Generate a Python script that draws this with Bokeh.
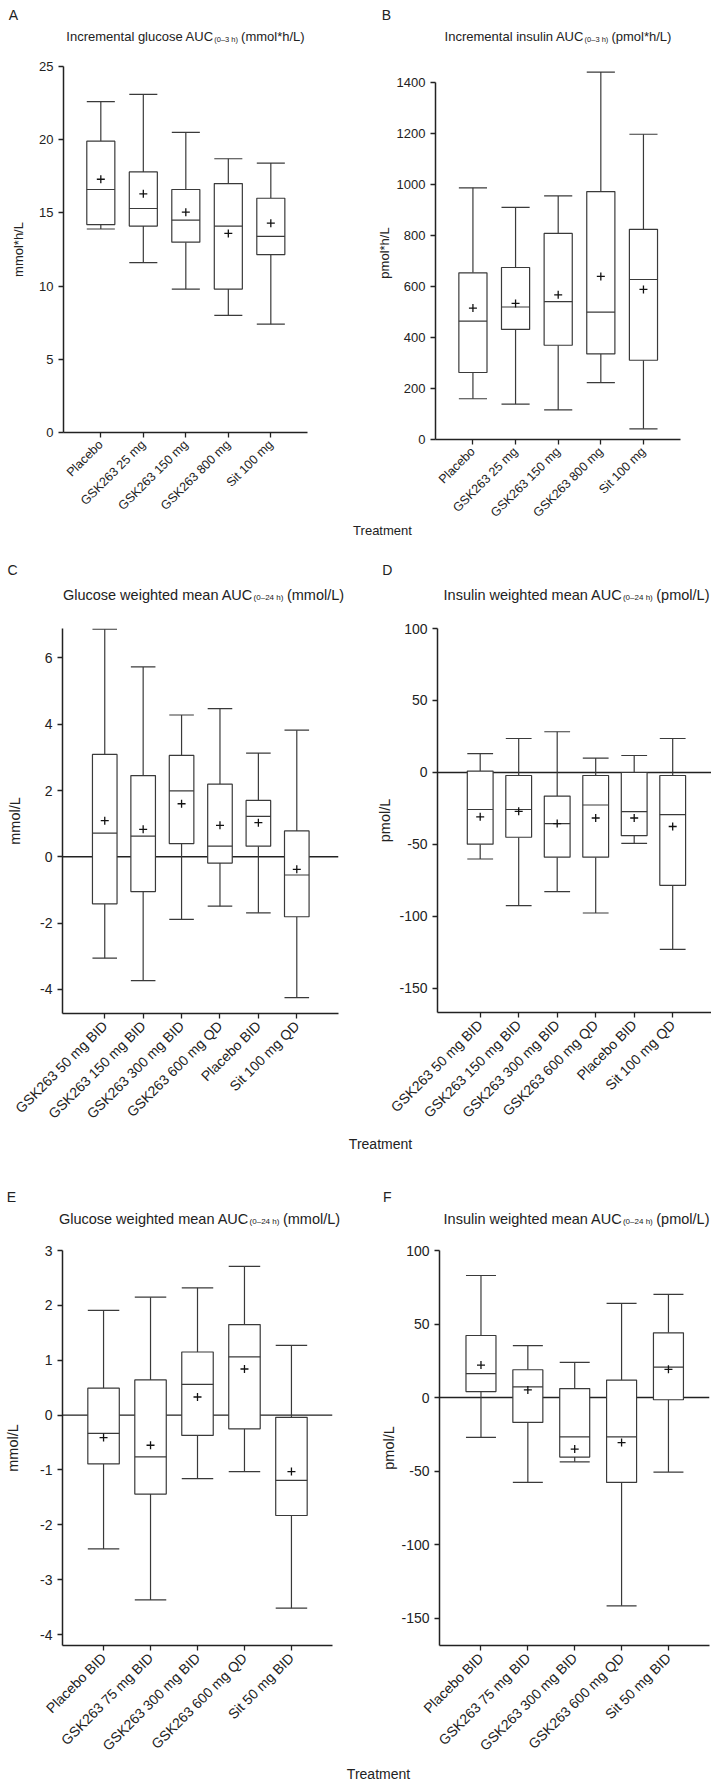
import math
from bokeh.plotting import figure
from bokeh.models import Range1d, FixedTicker, Span
from bokeh.layouts import row, column
from bokeh.core.properties import value
from bokeh.embed import file_html
from bokeh.resources import INLINE

# ---------------- data ----------------
A_cats = ["Placebo", "GSK263 25 mg", "GSK263 150 mg", "GSK263 800 mg", "Sit 100 mg"]
A_min = [13.9, 11.6, 9.8, 8.0, 7.4]
A_q1 = [14.2, 14.1, 13.0, 9.8, 12.15]
A_med = [16.6, 15.3, 14.5, 14.1, 13.4]
A_q3 = [19.9, 17.8, 16.6, 17.0, 16.0]
A_max = [22.6, 23.1, 20.5, 18.7, 18.4]
A_mean = [17.3, 16.3, 15.05, 13.6, 14.3]

B_cats = A_cats
B_min = [160, 139, 116, 223, 42]
B_q1 = [263, 432, 370, 336, 311]
B_med = [465, 520, 541, 500, 628]
B_q3 = [654, 675, 809, 973, 825]
B_max = [988, 911, 956, 1442, 1198]
B_mean = [516, 534, 568, 640, 589]

C_cats = ["GSK263 50 mg BID", "GSK263 150 mg BID", "GSK263 300 mg BID",
          "GSK263 600 mg QD", "Placebo BID", "Sit 100 mg QD"]
C_min = [-3.06, -3.74, -1.89, -1.49, -1.69, -4.25]
C_q1 = [-1.42, -1.05, 0.40, -0.19, 0.32, -1.81]
C_med = [0.715, 0.626, 1.99, 0.32, 1.22, -0.55]
C_q3 = [3.09, 2.45, 3.06, 2.19, 1.70, 0.78]
C_max = [6.87, 5.73, 4.28, 4.47, 3.13, 3.82]
C_mean = [1.09, 0.83, 1.60, 0.95, 1.03, -0.38]

D_cats = C_cats
D_min = [-60.1, -92.5, -82.7, -97.6, -49.3, -122.8]
D_q1 = [-49.8, -45.0, -58.8, -58.8, -43.9, -78.4]
D_med = [-25.7, -25.7, -35.5, -22.6, -27.2, -29.3]
D_q3 = [1.0, -2.1, -16.4, -2.1, 0.0, -2.1]
D_max = [13.1, 23.6, 28.3, 10.0, 11.8, 23.6]
D_mean = [-30.8, -27.0, -35.5, -31.6, -31.6, -37.5]

E_cats = ["Placebo BID", "GSK263 75 mg BID", "GSK263 300 mg BID",
          "GSK263 600 mg QD", "Sit 50 mg BID"]
E_min = [-2.44, -3.37, -1.16, -1.03, -3.52]
E_q1 = [-0.89, -1.44, -0.37, -0.25, -1.83]
E_med = [-0.335, -0.76, 0.56, 1.06, -1.19]
E_q3 = [0.49, 0.64, 1.15, 1.65, -0.04]
E_max = [1.91, 2.15, 2.32, 2.71, 1.27]
E_mean = [-0.41, -0.55, 0.33, 0.84, -1.03]

F_cats = E_cats
F_min = [-27.1, -57.7, -43.7, -141.6, -50.7]
F_q1 = [4.1, -16.9, -40.5, -57.7, -1.5]
F_med = [16.3, 7.3, -26.8, -26.8, 20.7]
F_q3 = [42.2, 18.9, 6.1, 11.9, 44.0]
F_max = [83.0, 35.3, 23.9, 64.1, 70.2]
F_mean = [22.1, 5.2, -35.0, -30.6, 19.2]

A_yticks = [0, 5, 10, 15, 20, 25]
B_yticks = [0, 200, 400, 600, 800, 1000, 1200, 1400]
C_yticks = [-4, -2, 0, 2, 4, 6]
D_yticks = [-150, -100, -50, 0, 50, 100]
E_yticks = [-4, -3, -2, -1, 0, 1, 2, 3]
F_yticks = [-150, -100, -50, 0, 50, 100]

TITLES = {
    "A": ("Incremental glucose AUC", "(0\u20133 h)", "(mmol*h/L)"),
    "B": ("Incremental insulin AUC", "(0\u20133 h)", "(pmol*h/L)"),
    "C": ("Glucose weighted mean AUC", "(0\u201324 h)", "(mmol/L)"),
    "D": ("Insulin weighted mean AUC", "(0\u201324 h)", "(pmol/L)"),
    "E": ("Glucose weighted mean AUC", "(0\u201324 h)", "(mmol/L)"),
    "F": ("Insulin weighted mean AUC", "(0\u201324 h)", "(pmol/L)"),
}
XLABEL = "Treatment"

# ---------------- styling ----------------
FONT = "Liberation Sans"
TXT = "#222222"
BOXC = "#3a3a3a"
AXC = "#222222"
W_TOTAL = 711
W_LEFT = 342

AW = {' ': 278, '(': 333, ')': 333, '*': 389, '/': 278, '\u2013': 556, '-': 333,
      'A': 667, 'C': 722, 'D': 722, 'G': 778, 'I': 278, 'L': 556, 'U': 722,
      'a': 556, 'b': 556, 'c': 500, 'd': 556, 'e': 556, 'f': 278, 'g': 556, 'h': 556,
      'i': 222, 'j': 222, 'k': 500, 'l': 222, 'm': 833, 'n': 556, 'o': 556, 'p': 556,
      'q': 556, 'r': 333, 's': 500, 't': 278, 'u': 556, 'v': 500, 'w': 722, 'x': 500,
      'y': 500, 'z': 500}


def tw(s, size):
    return sum(AW.get(ch, 556) for ch in s) / 1000.0 * size


def panel(cats, lo, q1, med, q3, hi, mean, yticks, c):
    n = len(cats)
    xs = list(range(n))
    bw = c["bw"]
    p = figure(frame_width=c["fw"], frame_height=c["fh"],
               min_border_left=c["bl"], min_border_right=c["br"],
               min_border_top=c["bt"], min_border_bottom=c["bb"],
               x_range=Range1d(-c["padl"], n - 1 + c["padr"]),
               y_range=Range1d(c["y0"], c["y1"]),
               output_backend="svg", toolbar_location=None, tools="")
    p.outline_line_color = None
    p.grid.visible = False
    p.background_fill_color = "white"
    p.border_fill_color = "white"

    if c.get("zero"):
        p.add_layout(Span(location=0, dimension="width", line_color=AXC,
                          line_width=1.4, level="underlay"))

    xl = [x - bw / 2 for x in xs]
    xr = [x + bw / 2 for x in xs]
    p.segment(x0=xs, y0=q3, x1=xs, y1=hi, line_color=BOXC, line_width=1.2)
    p.segment(x0=xs, y0=q1, x1=xs, y1=lo, line_color=BOXC, line_width=1.2)
    p.segment(x0=xl, y0=hi, x1=xr, y1=hi, line_color=BOXC, line_width=1.2)
    p.segment(x0=xl, y0=lo, x1=xr, y1=lo, line_color=BOXC, line_width=1.2)
    p.vbar(x=xs, width=bw, bottom=q1, top=q3, fill_color="white",
           line_color=BOXC, line_width=1.2)
    p.segment(x0=xl, y0=med, x1=xr, y1=med, line_color=BOXC, line_width=1.2)
    p.scatter(x=xs, y=mean, marker="cross", size=8, line_color="#111111",
              line_width=1.3)

    fs = c["fs"]
    xa = p.xaxis[0]
    xa.ticker = FixedTicker(ticks=xs)
    xa.major_label_overrides = {i: cats[i] for i in xs}
    xa.major_label_orientation = math.pi / 4
    xa.minor_tick_line_color = None
    xa.major_tick_in = 0
    xa.major_tick_out = 5
    xa.major_label_standoff = 5
    xa.axis_line_width = 1.5
    xa.axis_line_color = AXC
    xa.major_tick_line_color = AXC
    xa.major_tick_line_width = 1.3
    xa.major_label_text_font = FONT
    xa.major_label_text_font_size = f"{fs}px"
    xa.major_label_text_color = TXT

    ya = p.yaxis[0]
    ya.ticker = FixedTicker(ticks=yticks)
    ya.major_label_overrides = {t: str(t) for t in yticks}
    ya.minor_tick_line_color = None
    ya.major_tick_in = 0
    ya.major_tick_out = 5
    ya.major_label_standoff = 5
    ya.axis_line_width = 1.5
    ya.axis_line_color = AXC
    ya.major_tick_line_color = AXC
    ya.major_tick_line_width = 1.3
    ya.major_label_text_font = FONT
    ya.major_label_text_font_size = f"{c['yfs']}px"
    ya.major_label_text_color = TXT
    ya.axis_label = c["ylabel"]
    ya.axis_label_text_font = FONT
    ya.axis_label_text_font_style = "normal"
    ya.axis_label_text_font_size = f"{c['yls']}px"
    ya.axis_label_text_color = TXT
    ya.axis_label_standoff = c["yst"]
    if c.get("bounds"):
        ya.bounds = c["bounds"]
    return p


def strip(h, letters, titles, treat=None):
    """Text band: letters [(x,y,txt)], titles [(cx,y,key,tfs,sfs)], treat (x,y,fs)."""
    s = figure(width=W_TOTAL, height=h, x_range=Range1d(0, W_TOTAL),
               y_range=Range1d(h, 0), min_border=0, min_border_left=0,
               min_border_right=0, min_border_top=0, min_border_bottom=0,
               x_axis_type=None, y_axis_type=None, output_backend="svg",
               toolbar_location=None, tools="")
    s.outline_line_color = None
    s.grid.visible = False
    s.background_fill_color = "white"
    s.border_fill_color = "white"
    for (x, y, t) in letters:
        s.text(x=[x], y=[y], text=[t], text_font=value(FONT),
               text_font_size=value("14px"), text_color=TXT,
               text_align="center", text_baseline="middle")
    for (cx, y, key, tfs, sfs) in titles:
        main, sub, unit = TITLES[key]
        w_main, w_sub = tw(main, tfs), tw(sub, sfs)
        w_sp, w_unit = tw(" ", tfs), tw(unit, tfs)
        x0 = cx - (w_main + w_sub + w_sp + w_unit) / 2
        s.text(x=[x0], y=[y], text=[main], text_font=value(FONT),
               text_font_size=value(f"{tfs}px"), text_color=TXT,
               text_align="left", text_baseline="middle")
        s.text(x=[x0 + w_main + 0.5], y=[y + tfs * 0.22], text=[sub],
               text_font=value(FONT), text_font_size=value(f"{sfs}px"),
               text_color=TXT, text_align="left", text_baseline="middle")
        s.text(x=[x0 + w_main + w_sub + w_sp], y=[y], text=[unit],
               text_font=value(FONT), text_font_size=value(f"{tfs}px"),
               text_color=TXT, text_align="left", text_baseline="middle")
    if treat:
        x, y, f = treat
        s.text(x=[x], y=[y], text=[XLABEL], text_font=value(FONT),
               text_font_size=value(f"{f}px"), text_color=TXT,
               text_align="center", text_baseline="middle")
    return s


# ---- row 1 (panels y 50..521) ----
pA = panel(A_cats, A_min, A_q1, A_med, A_q3, A_max, A_mean, A_yticks, dict(
    fw=244, fh=366, bl=63, br=35, bt=16, bb=89, padl=0.878, padr=0.863,
    y0=0, y1=25, bw=0.66, fs=12.5, yfs=13, ylabel="mmol*h/L", yls=13, yst=10))
pB = panel(B_cats, B_min, B_q1, B_med, B_q3, B_max, B_mean, B_yticks, dict(
    fw=245, fh=373, bl=93, br=31, bt=9, bb=89, padl=0.878, padr=0.869,
    y0=0, y1=1464, bounds=(0, 1400), bw=0.66, fs=12.5, yfs=13,
    ylabel="pmol*h/L", yls=13, yst=2))

# ---- row 2 (panels y 612..1128) ----
pC = panel(C_cats, C_min, C_q1, C_med, C_q3, C_max, C_mean, C_yticks, dict(
    fw=276, fh=385, bl=62, br=4, bt=15, bb=116, padl=1.10, padr=1.086,
    y0=-4.73, y1=6.89, bw=0.64, fs=14, yfs=14, zero=True,
    ylabel="mmol/L", yls=14.5, yst=14))
pD = panel(D_cats, D_min, D_q1, D_med, D_q3, D_max, D_mean, D_yticks, dict(
    fw=274, fh=384, bl=95, br=0, bt=16, bb=116, padl=1.109, padr=1.008,
    y0=-166.7, y1=100, bw=0.67, fs=14, yfs=14, zero=True,
    ylabel="pmol/L", yls=14.5, yst=3))

# ---- row 3 (panels y 1240..1760) ----
pE = panel(E_cats, E_min, E_q1, E_med, E_q3, E_max, E_mean, E_yticks, dict(
    fw=270, fh=395, bl=62, br=10, bt=9, bb=116, padl=0.874, padr=0.874,
    y0=-4.2, y1=3, bw=0.67, fs=14, yfs=14, zero=True,
    ylabel="mmol/L", yls=14.5, yst=16))
pF = panel(F_cats, F_min, F_q1, F_med, F_q3, F_max, F_mean, F_yticks, dict(
    fw=270, fh=395, bl=97, br=2, bt=9, bb=116, padl=0.885, padr=0.876,
    y0=-168.6, y1=100, bw=0.64, fs=14, yfs=14, zero=True,
    ylabel="pmol/L", yls=14.5, yst=1))

# ---- text bands ----
s1 = strip(50, [(12.8, 14.3, "A"), (386, 14.3, "B")],
           [(185, 35.7, "A", 13, 7.5), (557.5, 35.7, "B", 13, 7.5)])
s2 = strip(91, [(12, 48, "C"), (386.7, 48.6, "D")],
           [(203, 73, "C", 14.5, 8), (576, 73, "D", 14.5, 8)],
           treat=(382, 9, 13))
s3 = strip(112, [(11, 67, "E"), (386.7, 67, "F")],
           [(199, 89, "E", 14.5, 8), (576, 89, "F", 14.5, 8)],
           treat=(380, 14, 14))
s4 = strip(22, [], [], treat=(378, 11.7, 14))

layout = column(s1, row(pA, pB, spacing=0), s2, row(pC, pD, spacing=0), s3,
                row(pE, pF, spacing=0), s4, spacing=0)

open("out.html", "w").write(file_html(layout, INLINE))
